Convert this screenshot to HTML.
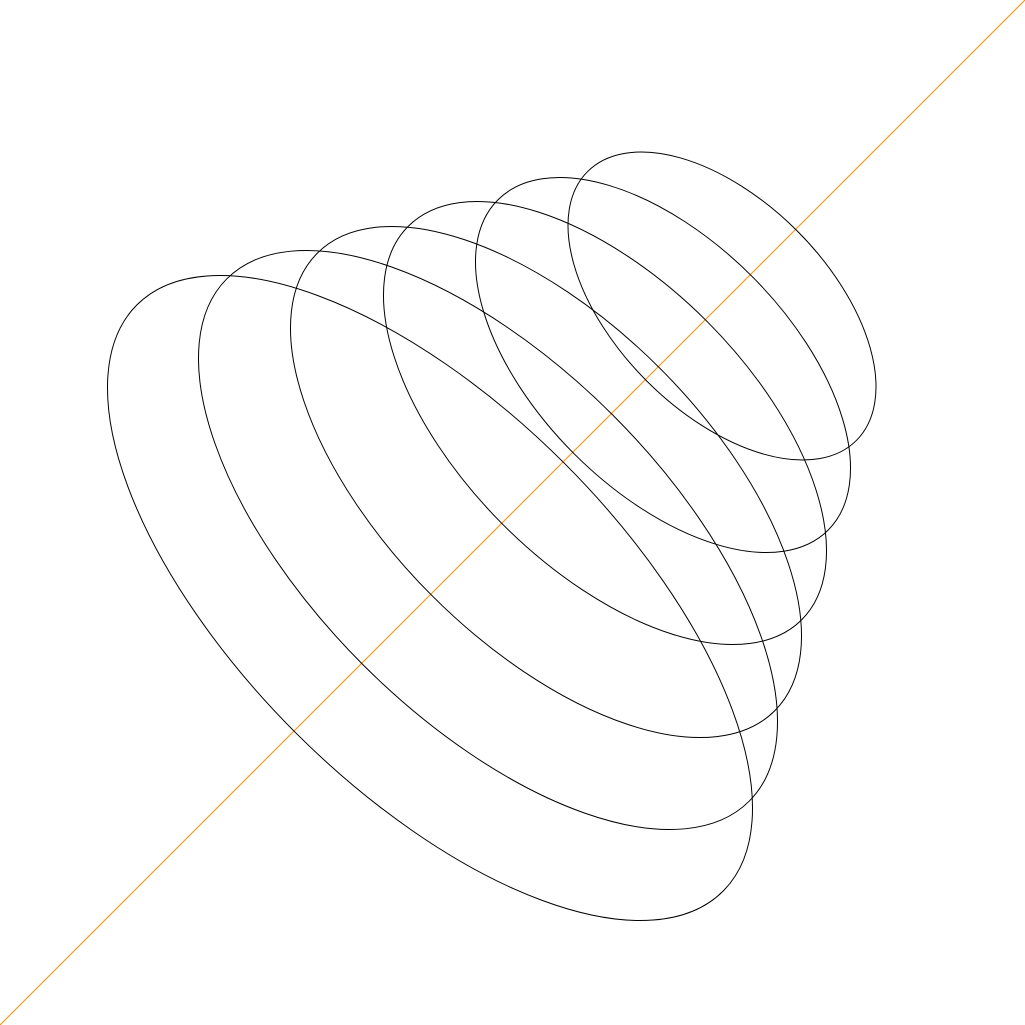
<!DOCTYPE html>
<html>
<head>
<meta charset="utf-8">
<style>
  html, body { margin: 0; padding: 0; background: #fff; }
  svg { display: block; }
</style>
</head>
<body>
<svg id="chart" width="1025" height="1025" viewBox="0 0 1025 1025" xmlns="http://www.w3.org/2000/svg">
  <line x1="0" y1="1025" x2="1025" y2="0" stroke="#ff8c00" stroke-width="1"/>
  <g id="ellipses"></g>
</svg>
<script>
const centerX = [430, 488, 546, 605, 663, 722];
const centerY = [598, 540, 482, 423, 365, 306];
const halfExtent = [322.5, 289.5, 255.5, 221.5, 187.5, 154];
const minorRatios = [0.59, 0.61, 0.63, 0.65, 0.67, 0.69];

const g = document.getElementById('ellipses');
const NS = 'http://www.w3.org/2000/svg';
for (let i = 0; i < centerX.length; i++) {
  const mr = minorRatios[i];
  const Mr = Math.sqrt(2 - mr * mr);
  const e = document.createElementNS(NS, 'ellipse');
  
  
  e.setAttribute('cx', centerX[i]);
  e.setAttribute('cy', centerY[i]);
  e.setAttribute('rx', halfExtent[i] * Mr);
  e.setAttribute('ry', halfExtent[i] * mr);
  e.setAttribute('transform', 'rotate(45 ' + centerX[i] + ' ' + centerY[i] + ')');
  e.setAttribute('fill', 'none');
  e.setAttribute('stroke', '#000');
  e.setAttribute('stroke-width', '1');
  g.appendChild(e);
}
</script>
</body>
</html>
